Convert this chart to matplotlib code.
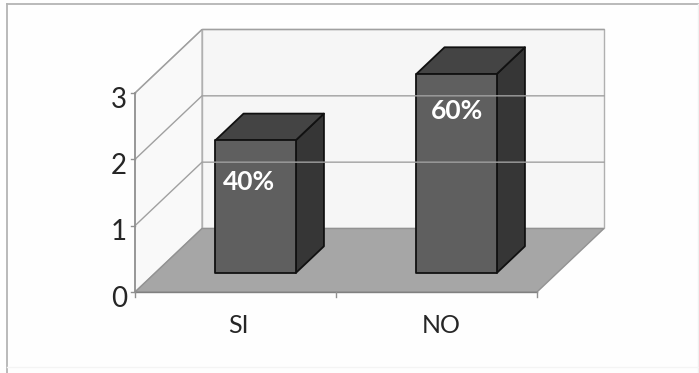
import matplotlib
matplotlib.use("Agg")
import matplotlib.pyplot as plt
from matplotlib.patches import Polygon

categories = ["SI", "NO"]
values = [2, 3]
labels = ["40%", "60%"]
yticks = [0, 1, 2, 3]

W, H = 699, 373
# front plane of the 3d box, in pixels
LEFT, RIGHT, BOTTOM, TOP = 135, 537, 292, 93
# how far one full depth unit shifts things, in data units
DX = 67 / 201
DY = 63.5 / 66.33

plt.rcParams["font.family"] = ["Lato", "DejaVu Sans"]

fig = plt.figure(figsize=(W / 100, H / 100), dpi=100, facecolor="#fefefe")
ax = fig.add_axes([LEFT / W, 1 - BOTTOM / H, (RIGHT - LEFT) / W, (BOTTOM - TOP) / H])
ax.set_xlim(0, len(categories))
ax.set_ylim(0, yticks[-1])
ax.axis("off")


def proj(x, y, d):
    return x + d * DX, y + d * DY


def poly(points, **kw):
    kw.setdefault("clip_on", False)
    p = Polygon([proj(*q) for q in points], closed=True, **kw)
    ax.add_patch(p)
    return p


nx = len(categories)
top = yticks[-1]
grid = "#a0a0a0"

# outer frame: top and left are strong, right and bottom barely show
fig.add_artist(plt.Line2D([7 / W, 7 / W], [0, 1 - 4 / H], color="#b4b4b4", lw=1.3))
fig.add_artist(plt.Line2D([7 / W, 1], [1 - 4 / H, 1 - 4 / H], color="#b4b4b4", lw=1.3))
fig.add_artist(plt.Line2D([698 / W, 698 / W], [0, 1 - 4 / H], color="#f0f0f0", lw=1))
fig.add_artist(plt.Line2D([7 / W, 1], [1 - 367 / H, 1 - 367 / H], color="#f4f4f4", lw=1))

# walls and floor
poly([(0, 0, 1), (nx, 0, 1), (nx, top, 1), (0, top, 1)], fc="#f6f6f6", ec="#b0b0b0", lw=1)
poly([(0, 0, 0), (0, 0, 1), (0, top, 1), (0, top, 0)], fc="#f9f9f9", ec="#b0b0b0", lw=1)
poly([(0, 0, 0), (nx, 0, 0), (nx, 0, 1), (0, 0, 1)], fc="#a6a6a6", ec="#929292", lw=1)

# gridlines run along the side wall and then the back wall
for t in yticks[1:]:
    pts = [proj(0, t, 0), proj(0, t, 1), proj(nx, t, 1)]
    ax.plot(*zip(*pts), color=grid, lw=1, clip_on=False)

# axis lines and ticks
ax.plot([0, 0], [0, top], color="#909090", lw=1.2, clip_on=False)
ax.plot([0, nx], [0, 0], color="#808080", lw=1, clip_on=False)
for t in yticks:
    ax.plot([-0.02, 0], [t, t], color="#909090", lw=1, clip_on=False)
    ax.text(-0.04, t - 0.1, str(t), ha="right", va="center", fontsize=20, color="#262626")
for i in range(nx + 1):
    ax.plot([i, i], [0, -0.07], color="#909090", lw=1, clip_on=False)

# bars
width = 0.4
d0, d1 = 0.3, 0.72
label_dx = [-0.033, 0.0]
label_dy = [0.63, 0.56]
name_dx = [0.012, 0.025]
for i, (name, v, lab) in enumerate(zip(categories, values, labels)):
    x0 = i + 0.5 - width / 2
    x1 = x0 + width
    edge = dict(ec="#111111", lw=1.3, joinstyle="round")
    poly([(x1, 0, d0), (x1, 0, d1), (x1, v, d1), (x1, v, d0)], fc="#363636", **edge)
    poly([(x0, v, d0), (x1, v, d0), (x1, v, d1), (x0, v, d1)], fc="#444444", **edge)
    poly([(x0, 0, d0), (x1, 0, d0), (x1, v, d0), (x0, v, d0)], fc="#5f5f5f", **edge)
    lx, ly = proj(i + 0.5 + label_dx[i], v - label_dy[i], d0)
    ax.text(lx, ly, lab, ha="center", va="center", fontsize=19, fontweight="bold", color="white", clip_on=False)
    ax.text(i + 0.5 + name_dx[i], -0.5, name, ha="center", va="center", fontsize=18, color="#262626")

fig.savefig("out.png", dpi=100, facecolor=fig.get_facecolor())
